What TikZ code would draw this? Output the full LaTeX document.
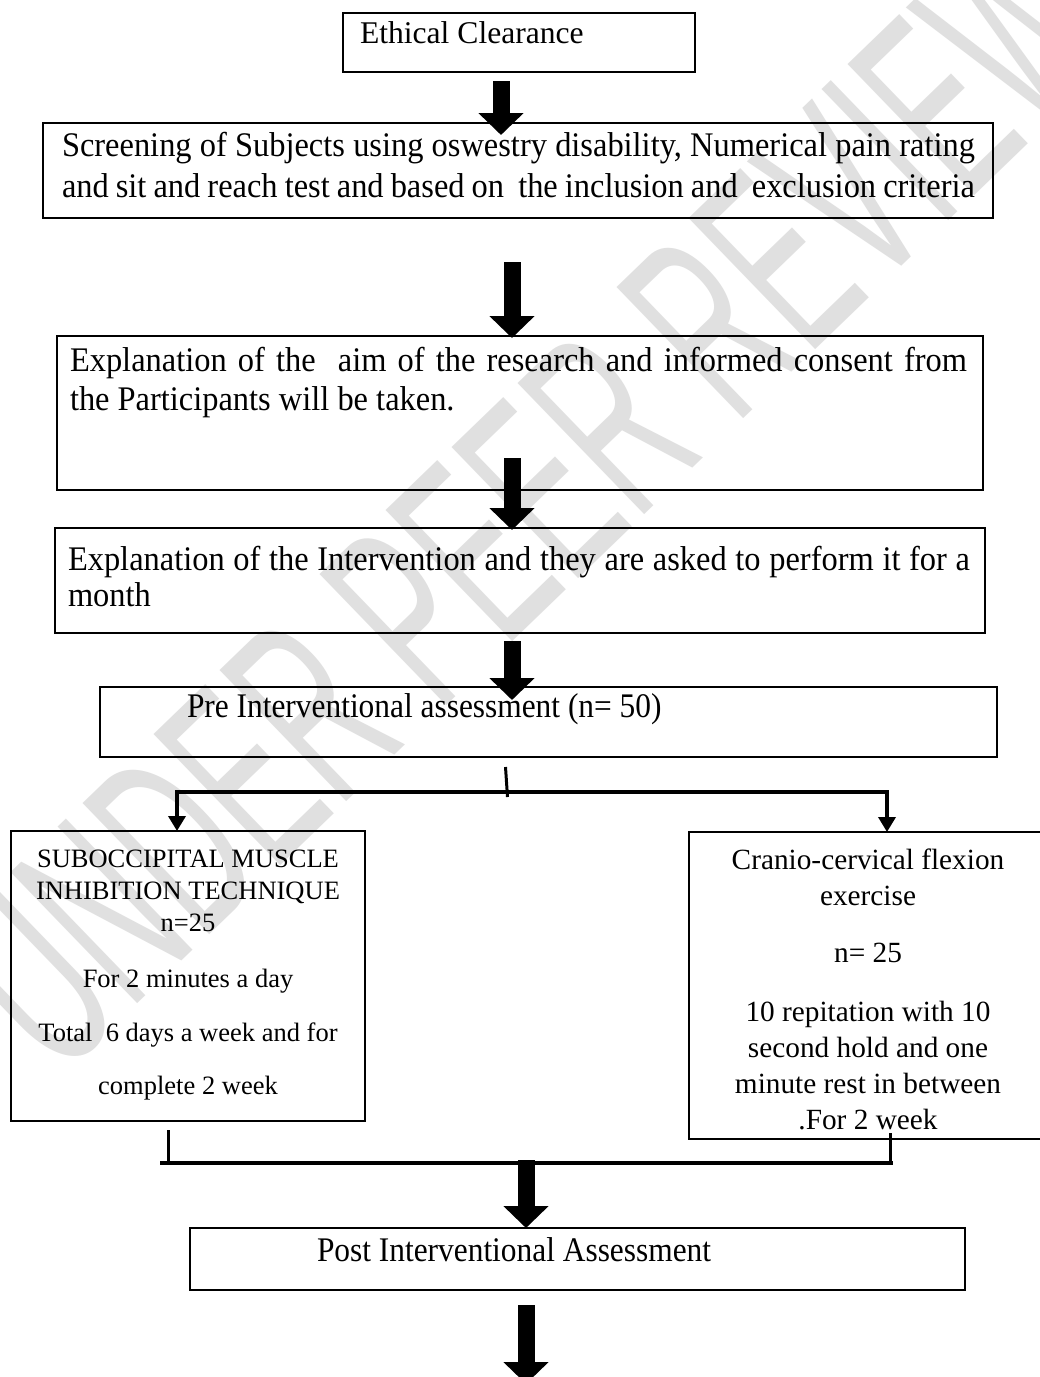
\documentclass[tikz,border=0pt]{standalone}
\usepackage{fontspec}
\setmainfont{Liberation Serif}
\newfontfamily\nserif[FakeStretch=0.94]{Liberation Serif}
\newfontfamily\mserif[FakeStretch=0.91]{Liberation Serif}
\newfontfamily\wmfont{Liberation Sans}
\usetikzlibrary{arrows.meta,calc}
\tikzset{
  box/.style={draw, line width=2.5pt, inner sep=0pt, outer sep=0pt, rectangle, anchor=north west},
  txt/.style={inner sep=0pt, outer sep=0pt, anchor=base west},
  ctxt/.style={inner sep=0pt, outer sep=0pt, anchor=base},
  mainf/.style={font=\nserif\fontsize{34.5}{40}\selectfont},
  shortf/.style={font=\mserif\fontsize{34.5}{40}\selectfont},
  onef/.style={font=\fontsize{31.6}{36}\selectfont},
  leftf/.style={font=\fontsize{26.5}{30}\selectfont},
  rightf/.style={font=\fontsize{29.3}{34}\selectfont},
  bigarrow/.style={line width=17pt, -{Triangle[width=44pt,length=22pt]}},
  smallarrow/.style={line width=3.5pt, -{Triangle[width=17pt,length=15pt]}},
  joinline/.style={line width=3.5pt},
  wm/.style={text=black!12, font=\wmfont\fontsize{265}{265}\selectfont, inner sep=0pt, rotate=44, xscale=0.52}
}
\begin{document}
\begin{tikzpicture}[x=1pt,y=-1pt]
\useasboundingbox (0,0) rectangle (1040,1377);
\clip (0,0) rectangle (1040,1377);
\fill[white] (0,0) rectangle (1040,1377);

% watermark
\node[wm] (mark) at (530,500) {UNDER PEER REVIEW};

% boxes
\node[box, minimum width=352pt, minimum height=59pt] (b1) at (343,13) {};
\node[box, minimum width=950pt, minimum height=95pt] (b2) at (43,123) {};
\node[box, minimum width=926pt, minimum height=154pt] (b3) at (57,336) {};
\node[box, minimum width=930pt, minimum height=105pt] (b4) at (55,528) {};
\node[box, minimum width=897pt, minimum height=70pt] (b5) at (100,687) {};
\node[box, minimum width=354pt, minimum height=290pt] (b6) at (11,831) {};
\node[box, minimum width=358pt, minimum height=307pt] (b7) at (689,832) {};
\node[box, minimum width=775pt, minimum height=62pt] (b8) at (190,1228) {};

% texts
\node[txt, onef] (t1) at (360,43) {Ethical Clearance};
\node[txt, mainf] (t2a) at (62,156) {\makebox[913pt][s]{Screening of Subjects using oswestry disability, Numerical pain rating}};
\node[txt, mainf] (t2b) at (62,197) {\makebox[913pt][s]{and sit and reach test and based on\ \ the inclusion and\ \ exclusion criteria}};
\node[txt, mainf] (t3a) at (70,371) {\makebox[897pt][s]{Explanation of the\ \ aim of the research and informed consent from}};
\node[txt, mainf] (t3b) at (70,410) {the Participants will be taken.};
\node[txt, mainf] (t4a) at (68,570) {\makebox[902pt][s]{Explanation of the Intervention and they are asked to perform it for a}};
\node[txt, mainf] (t4b) at (68,606) {month};
\node[txt, shortf] (t5) at (187,717) {Pre Interventional assessment (n= 50)};

\node[ctxt, leftf] (t6a) at (188,867) {SUBOCCIPITAL MUSCLE};
\node[ctxt, leftf] (t6b) at (188,899) {INHIBITION TECHNIQUE};
\node[ctxt, leftf] (t6c) at (188,931) {n=25};
\node[ctxt, leftf] (t6d) at (188,987) {For 2 minutes a day};
\node[ctxt, leftf] (t6e) at (188,1041) {Total\ \ 6 days a week and for};
\node[ctxt, leftf] (t6f) at (188,1094) {complete 2 week};

\node[ctxt, rightf] (t7a) at (868,869) {Cranio-cervical flexion};
\node[ctxt, rightf] (t7b) at (868,905) {exercise};
\node[ctxt, rightf] (t7c) at (868,962) {n= 25};
\node[ctxt, rightf] (t7d) at (868,1021) {10 repitation with 10};
\node[ctxt, rightf] (t7e) at (868,1057) {second hold and one};
\node[ctxt, rightf] (t7f) at (868,1093) {minute rest in between};
\node[ctxt, rightf] (t7g) at (868,1129) {.For 2 week};

\node[txt, shortf] (t8) at (317,1261) {Post Interventional Assessment};

% branch connectors
\coordinate (hl) at (177,792);
\coordinate (hr) at (887,792);
\coordinate (jl) at (168,1163);
\coordinate (jr) at (890,1163);
\coordinate (jm) at (526,1160);
\coordinate (endpt) at (526,1384);

\draw[line width=3pt] ($(b5.south)+(-43,10)$) -- ($(b5.south)+(-41,40)$);
\draw[joinline] ($(hl)+(-2,0)$) -- ($(hr)+(2,0)$);
\draw[smallarrow] (hl) -- (hl |- b6.north);
\draw[smallarrow] (hr) -- (hr |- b7.north);

\draw[line width=3pt] ($(b6.south -| jl)+(0,9)$) -- (jl);
\draw[line width=3pt] ($(b7.south -| jr)+(0,-6)$) -- (jr);
\draw[joinline] ($(jl)+(-8,0)$) -- ($(jr)+(3,0)$);

% big arrows
\draw[bigarrow] ($(b1.south)+(-18,9)$) -- ($(b2.north)+(-17,12)$);
\draw[bigarrow] ($(b2.south)+(-6,44)$) -- ($(b3.north)+(-8,2)$);
\draw[bigarrow] ($(b3.south)+(-8,-32)$) -- ($(b4.north)+(-8,2)$);
\draw[bigarrow] ($(b4.south)+(-8,8)$) -- ($(b5.north)+(-36.5,13)$);
\draw[bigarrow] (jm) -- (jm |- b8.north);
\draw[bigarrow] ($(b8.south)+(-51.5,15)$) -- (endpt);
\end{tikzpicture}
\end{document}
